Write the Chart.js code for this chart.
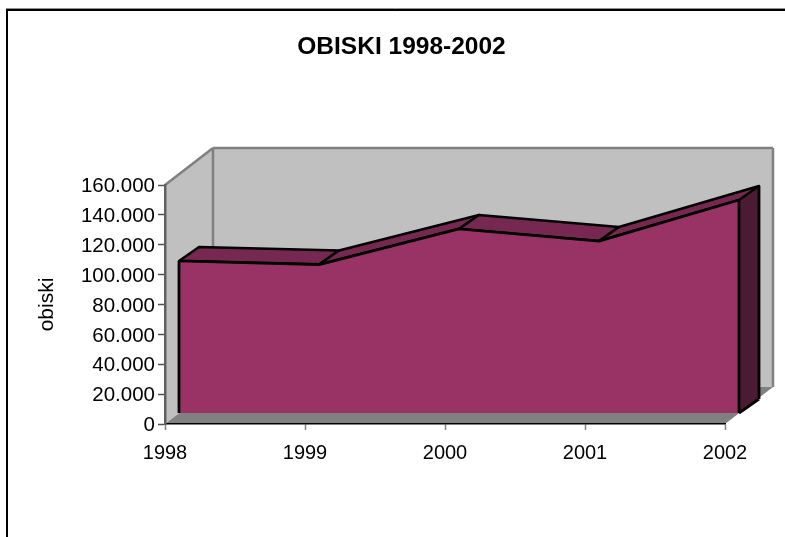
<!DOCTYPE html>
<html>
<head>
<meta charset="utf-8">
<title>OBISKI 1998-2002</title>
<script src="https://cdn.jsdelivr.net/npm/chart.js@4"></script>
<style>
    html, body { margin: 0; padding: 0; background: #fff; }
    #wrap { position: relative; width: 785px; height: 537px; overflow: hidden; }
</style>
</head>
<body>
<div id="wrap"><canvas id="chart" width="785" height="537"></canvas></div>
<script>
const years = ['1998', '1999', '2000', '2001', '2002'];
const obiski = [101800, 99400, 123200, 115100, 142600];
const yTickLabels = ['0', '20.000', '40.000', '60.000', '80.000', '100.000', '120.000', '140.000', '160.000'];

// 3D look: front of the area and back of the area are shifted from the axis plane
const AREA_FRONT = { x: 14, y: -11 };
const AREA_BACK = { x: 34, y: -25 };
const WALL = { x: 48, y: -37 };

const FONT = '"Liberation Sans", Arial, sans-serif';

function poly(ctx, pts, fill, stroke, width) {
    ctx.beginPath();
    pts.forEach((p, i) => i ? ctx.lineTo(p[0], p[1]) : ctx.moveTo(p[0], p[1]));
    ctx.closePath();
    if (fill) { ctx.fillStyle = fill; ctx.fill(); }
    if (stroke) { ctx.strokeStyle = stroke; ctx.lineWidth = width; ctx.stroke(); }
}

function line(ctx, x1, y1, x2, y2, color, width) {
    ctx.beginPath();
    ctx.moveTo(x1, y1);
    ctx.lineTo(x2, y2);
    ctx.strokeStyle = color;
    ctx.lineWidth = width;
    ctx.stroke();
}

const box3d = {
    id: 'box3d',
    // Outer frame, walls and floor go under the axes
    beforeDraw(chart) {
        const { ctx, chartArea: a } = chart;
        ctx.save();
        ctx.lineJoin = 'miter';
        line(ctx, 6, 8.5, 785, 8.5, '#909090', 1);
        line(ctx, 6, 10, 785, 10, '#000', 2);
        line(ctx, 7, 9, 7, 537, '#000', 2);

        const bx = a.left + WALL.x, tx = a.top + WALL.y, by = a.bottom + WALL.y, rx = a.right + WALL.x;
        poly(ctx, [[a.left, a.top], [bx, tx], [bx, by], [a.left, a.bottom]], '#c0c0c0');
        poly(ctx, [[bx, tx], [rx, tx], [rx, by], [bx, by]], '#c0c0c0');
        poly(ctx, [[a.left, a.bottom], [a.right, a.bottom], [rx, by], [bx, by]], '#808080');

        line(ctx, a.left, a.top, bx, tx, '#808080', 2.5);
        line(ctx, bx, tx, rx, tx, '#808080', 2.5);
        line(ctx, rx, tx, rx, by, '#808080', 2.5);
        line(ctx, bx, tx, bx, by, '#808080', 2.5);
        ctx.restore();
    },
    // Top and side faces, then shift the plane so the area itself lands in front of them
    beforeDatasetsDraw(chart) {
        const { ctx, scales: { x, y } } = chart;
        ctx.save();
        ctx.lineJoin = 'round';
        const px = i => x.getPixelForValue(i);
        const py = i => y.getPixelForValue(obiski[i]);
        const last = obiski.length - 1;
        const base = y.getPixelForValue(0);

        poly(ctx, [
            [px(last) + AREA_FRONT.x, py(last) + AREA_FRONT.y],
            [px(last) + AREA_BACK.x, py(last) + AREA_BACK.y],
            [px(last) + AREA_BACK.x, base + AREA_BACK.y],
            [px(last) + AREA_FRONT.x, base + AREA_FRONT.y]
        ], '#4d1a33');
        line(ctx, px(last) + AREA_BACK.x, py(last) + AREA_BACK.y, px(last) + AREA_BACK.x, base + AREA_BACK.y, '#000', 2.8);
        line(ctx, px(last) + AREA_FRONT.x, base + AREA_FRONT.y, px(last) + AREA_BACK.x, base + AREA_BACK.y, '#000', 2.8);

        for (let i = 0; i < last; i++) {
            poly(ctx, [
                [px(i) + AREA_FRONT.x, py(i) + AREA_FRONT.y],
                [px(i) + AREA_BACK.x, py(i) + AREA_BACK.y],
                [px(i + 1) + AREA_BACK.x, py(i + 1) + AREA_BACK.y],
                [px(i + 1) + AREA_FRONT.x, py(i + 1) + AREA_FRONT.y]
            ], '#772850', '#000', 2.5);
        }
        ctx.restore();

        ctx.save();
        ctx.translate(AREA_FRONT.x, AREA_FRONT.y);
    },
    afterDatasetsDraw(chart) {
        const { ctx, scales: { x, y } } = chart;
        ctx.restore();
        ctx.save();
        const last = obiski.length - 1;
        const base = y.getPixelForValue(0) + AREA_FRONT.y;
        line(ctx, x.getPixelForValue(0) + AREA_FRONT.x, y.getPixelForValue(obiski[0]) + AREA_FRONT.y, x.getPixelForValue(0) + AREA_FRONT.x, base, '#000', 2.8);
        line(ctx, x.getPixelForValue(last) + AREA_FRONT.x, y.getPixelForValue(obiski[last]) + AREA_FRONT.y, x.getPixelForValue(last) + AREA_FRONT.x, base, '#000', 2.8);
        ctx.restore();
    }
};

new Chart(document.getElementById('chart').getContext('2d'), {
    type: 'line',
    data: {
        labels: years,
        datasets: [{
            label: 'obiski',
            data: obiski,
            fill: 'origin',
            backgroundColor: '#993366',
            borderColor: '#000',
            borderWidth: 2.8,
            borderJoinStyle: 'round',
            pointRadius: 0,
            tension: 0,
            clip: false
        }]
    },
    plugins: [box3d],
    options: {
        responsive: false,
        animation: false,
        events: [],
        layout: { padding: { left: 18, right: 0, top: 0, bottom: 0 } },
        plugins: {
            legend: { display: false },
            tooltip: { enabled: false },
            title: {
                display: true,
                text: 'OBISKI 1998-2002',
                color: '#000',
                font: { family: FONT, size: 24.5, weight: 'bold' },
                padding: { top: 32.3, bottom: 123.3 }
            }
        },
        scales: {
            x: {
                offset: false,
                grid: { display: true, drawOnChartArea: false, tickLength: 6, tickColor: '#808080', tickWidth: 1.5 },
                border: { color: '#000', width: 1.5 },
                ticks: { color: '#000', font: { family: FONT, size: 20 }, padding: 11, maxRotation: 0, autoSkip: false },
                afterFit(scale) { scale.height = 113; }
            },
            y: {
                min: 0,
                max: 160000,
                grid: { display: true, drawOnChartArea: false, tickLength: 7, tickColor: '#505050', tickWidth: 1.5 },
                border: { color: '#606060', width: 2.5 },
                ticks: {
                    stepSize: 20000,
                    color: '#000',
                    font: { family: FONT, size: 20.5 },
                    padding: 3,
                    labelOffset: 1.5,
                    callback: (v, i) => yTickLabels[i]
                },
                title: {
                    display: true,
                    text: 'obiski',
                    color: '#000',
                    font: { family: FONT, size: 21 },
                    padding: { top: 17, bottom: 0 }
                },
                afterFit(scale) { scale.width = 147; }
            },
            // empty axis, only reserves the room for the walls on the right side
            yRight: {
                position: 'right',
                min: 0,
                max: 160000,
                grid: { display: false },
                border: { display: false },
                ticks: { display: false },
                afterFit(scale) { scale.width = 60; }
            }
        }
    }
});
</script>
</body>
</html>
